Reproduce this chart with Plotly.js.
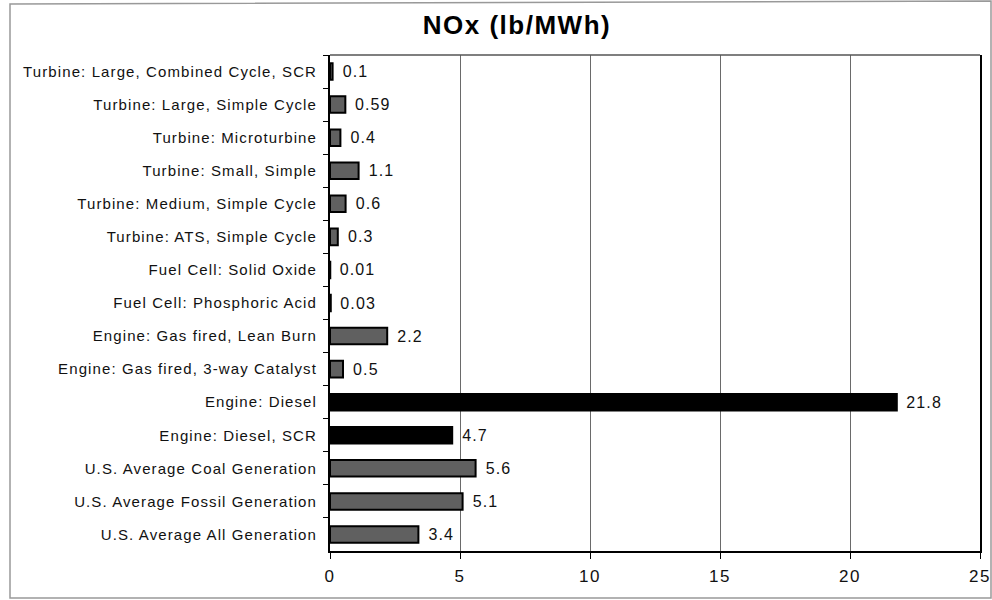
<!DOCTYPE html>
<html>
<head>
<meta charset="utf-8">
<script src="https://cdn.plot.ly/plotly-3.0.1.min.js"></script>
<style>
  html, body { margin: 0; padding: 0; background: #fff; }
  #chart { width: 992px; height: 600px; }
  #chart .ytick text { letter-spacing: 1.1px; }
  #chart .xtick text { letter-spacing: 1.5px; }
  #chart .bartext { letter-spacing: 1.1px; }
  #chart .gtitle { letter-spacing: 1.5px; }
</style>
</head>
<body>
<div id="chart"></div>
<script>
// Categories, top to bottom
const categories = [
  "Turbine: Large, Combined Cycle, SCR",
  "Turbine: Large, Simple Cycle",
  "Turbine: Microturbine",
  "Turbine: Small, Simple",
  "Turbine: Medium, Simple Cycle",
  "Turbine: ATS, Simple Cycle",
  "Fuel Cell: Solid Oxide",
  "Fuel Cell: Phosphoric Acid",
  "Engine: Gas fired, Lean Burn",
  "Engine: Gas fired, 3-way Catalyst",
  "Engine: Diesel",
  "Engine: Diesel, SCR",
  "U.S. Average Coal Generation",
  "U.S. Average Fossil Generation",
  "U.S. Average All Generation"
];
// NOx emissions, lb/MWh
const noxValues = [0.1, 0.59, 0.4, 1.1, 0.6, 0.3, 0.01, 0.03, 2.2, 0.5, 21.8, 4.7, 5.6, 5.1, 3.4];
const valueLabels = ["0.1", "0.59", "0.4", "1.1", "0.6", "0.3", "0.01", "0.03", "2.2", "0.5", "21.8", "4.7", "5.6", "5.1", "3.4"];
// Which bars are diesel (drawn black)
const dieselFlags = [false, false, false, false, false, false, false, false, false, false, true, true, false, false, false];
const xTickValues = [0, 5, 10, 15, 20, 25];

const barColors = dieselFlags.map(d => d ? "#000000" : "#606060");

const trace = {
  type: "bar",
  orientation: "h",
  y: categories,
  x: noxValues,
  text: valueLabels.map(t => "\u00A0\u2009" + t),
  textposition: "outside",
  cliponaxis: false,
  constraintext: "none",
  textfont: { family: "Liberation Sans, Arial, sans-serif", size: 16, color: "#111" },
  marker: { color: barColors, line: { color: "#000", width: 2 } },
  hoverinfo: "x+y"
};

// pixel -> paper helpers (plot area x: 330..980, y: 55..551)
const px = v => (v - 330) / 650;
const py = v => (551 - v) / 496;

const layout = {
  width: 992,
  height: 600,
  margin: { l: 330, r: 12, t: 55, b: 49, pad: 0 },
  paper_bgcolor: "#fff",
  plot_bgcolor: "#fff",
  showlegend: false,
  bargap: 0.5,
  title: {
    text: "<b>NOx (lb/MWh)</b>",
    font: { family: "Liberation Sans, Arial, sans-serif", size: 26, color: "#000" },
    x: 517 / 992, xref: "container", xanchor: "center",
    y: 1 - 25 / 600, yref: "container", yanchor: "middle"
  },
  xaxis: {
    range: [0, 25],
    tickvals: xTickValues,
    ticktext: xTickValues.map(String),
    showgrid: true,
    gridcolor: "#6a6a6a",
    gridwidth: 1,
    zeroline: false,
    showline: true,
    linecolor: "#000",
    linewidth: 2,
    ticks: "outside",
    ticklen: 6,
    tickcolor: "#000",
    tickwidth: 1,
    ticklabelstandoff: 3,
    tickfont: { family: "Liberation Sans, Arial, sans-serif", size: 17, color: "#111" },
    fixedrange: true
  },
  yaxis: {
    type: "category",
    autorange: "reversed",
    showgrid: false,
    zeroline: false,
    showline: true,
    mirror: true,
    linecolor: "#000",
    linewidth: 2,
    ticks: "outside",
    tickson: "boundaries",
    ticklen: 5,
    tickcolor: "#000",
    tickwidth: 1,
    ticklabelstandoff: 8,
    tickfont: { family: "Liberation Sans, Arial, sans-serif", size: 15, color: "#111" },
    fixedrange: true
  },
  shapes: [
    // top border of the plot area
    { type: "line", xref: "paper", yref: "paper", x0: 0, x1: 1, y0: 1, y1: 1,
      line: { color: "#555", width: 1.5 } },
    // outer chart frame
    { type: "path", xref: "paper", yref: "paper",
      path: "M " + px(10) + "," + py(4) + " L " + px(991) + "," + py(1) +
            " L " + px(991) + "," + py(598) + " L " + px(10) + "," + py(598) + " Z",
      line: { color: "#999", width: 1.5 }, fillcolor: "rgba(0,0,0,0)" }
  ]
};

Plotly.newPlot("chart", [trace], layout, { displayModeBar: false, staticPlot: true });
</script>
</body>
</html>
